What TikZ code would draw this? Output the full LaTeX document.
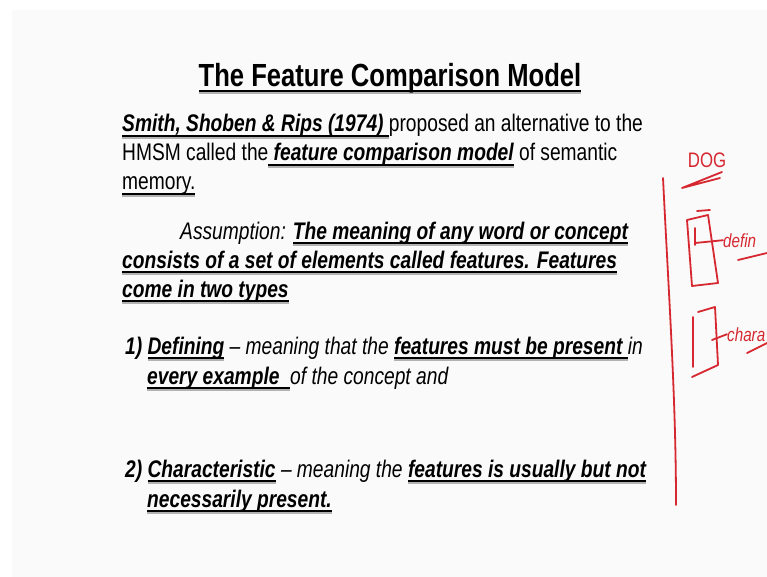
\documentclass[tikz,border=0pt]{standalone}
\usepackage{fontspec}
\setmainfont{Liberation Sans}[FakeStretch=0.80]
\usetikzlibrary{positioning}

\newcommand{\ulbox}[1]{\setbox0\hbox{#1}\rlap{\color{black!30}\vrule height -4.6pt depth 6.6pt width \wd0}\rlap{\vrule height -2.6pt depth 5pt width \wd0}\box0}
\newcommand{\bul}[1]{{\bfseries\itshape\ulbox{#1}}}

\tikzset{%
        x = 1pt, y = -1pt,
        every node/.style = {inner sep = 0pt, anchor = base west},
        titletext/.style = {font = \fontsize{32}{36}\selectfont\bfseries, anchor = base},
        bodytext/.style = {font = \fontsize{24}{28}\selectfont},
        inktext/.style = {font = \fontsize{19}{21}\selectfont\itshape, text = inkred},
        ink/.style = {draw = inkred, line width = 1.8pt, line cap = round, line join = round}
    }
\definecolor{inkred}{RGB}{214,40,48}
\definecolor{slidebg}{RGB}{250,250,250}

\begin{document}
\begin{tikzpicture}
\useasboundingbox (0,0) rectangle (767,577);
\fill[slidebg] (12,10) rectangle (767,577);

% title
\node[titletext]	(title)	at (390,87)		{\ulbox{The Feature Comparison Model}};

% first paragraph
\node[bodytext]		(intro1)	at (122,132)	{\bul{Smith, Shoben \& Rips (1974)\ }proposed an alternative to the};
\node[bodytext]		(intro2)	at (122,161)	{HMSM called the\bul{\ feature comparison model} of semantic};
\node[bodytext]		(intro3)	at (122,190)	{\ulbox{memory.}};

% assumption
\node[bodytext]		(assume1)	at (180,239)	{\textit{Assumption: }\bul{The meaning of any word or concept}};
\node[bodytext]		(assume2)	at (122,268)	{\bul{consists of a set of elements called features. Features}};
\node[bodytext]		(assume3)	at (122,297)	{\bul{come in two types}};

% the two types
\node[bodytext]		(defin1)	at (125,354)	{\textbf{\textit{1) }}\bul{Defining}\textit{ -- meaning that the }\bul{features must be present\ }\textit{in}};
\node[bodytext]		(defin2)	at (147,384)	{\bul{every example\ \ }\textit{of the concept and}};
\node[bodytext]		(chara1)	at (125,477)	{\textbf{\textit{2) }}\bul{Characteristic}\textit{ -- meaning the }\bul{features is usually but not}};
\node[bodytext]		(chara2)	at (147,507)	{\bul{necessarily present.}};

% red pen notes
\node[inktext, anchor = base]	(dog)		at (707,168)	{\upshape\fontsize{21}{23}\selectfont DOG};
\node[inktext, anchor = base west]	(defnote)	at (723,247)	{defin};
\node[inktext, anchor = base west]	(charnote)	at (727,341)	{chara};
\draw[ink] (722,172) -- (682,188) -- (720,178);
\draw[ink] (663,178) .. controls (669,300) and (676,400) .. (676,505);
\draw[ink] (697,211) -- (710,210);
\draw[ink] (687,220) -- (708,215) -- (718,283) -- (692,286) -- cycle;
\draw[ink] (695,228) -- (695,245);
\draw[ink] (695,243) -- (defnote.west);
\draw[ink] (738,260) -- (767,253);
\draw[ink] (698,312) -- (715,307) -- (718,365) -- (692,377);
\draw[ink] (693,317) -- (693,367);
\draw[ink] (712,340) -- (charnote.west);
\draw[ink] (747,353) -- (767,343);
\end{tikzpicture}
\end{document}
